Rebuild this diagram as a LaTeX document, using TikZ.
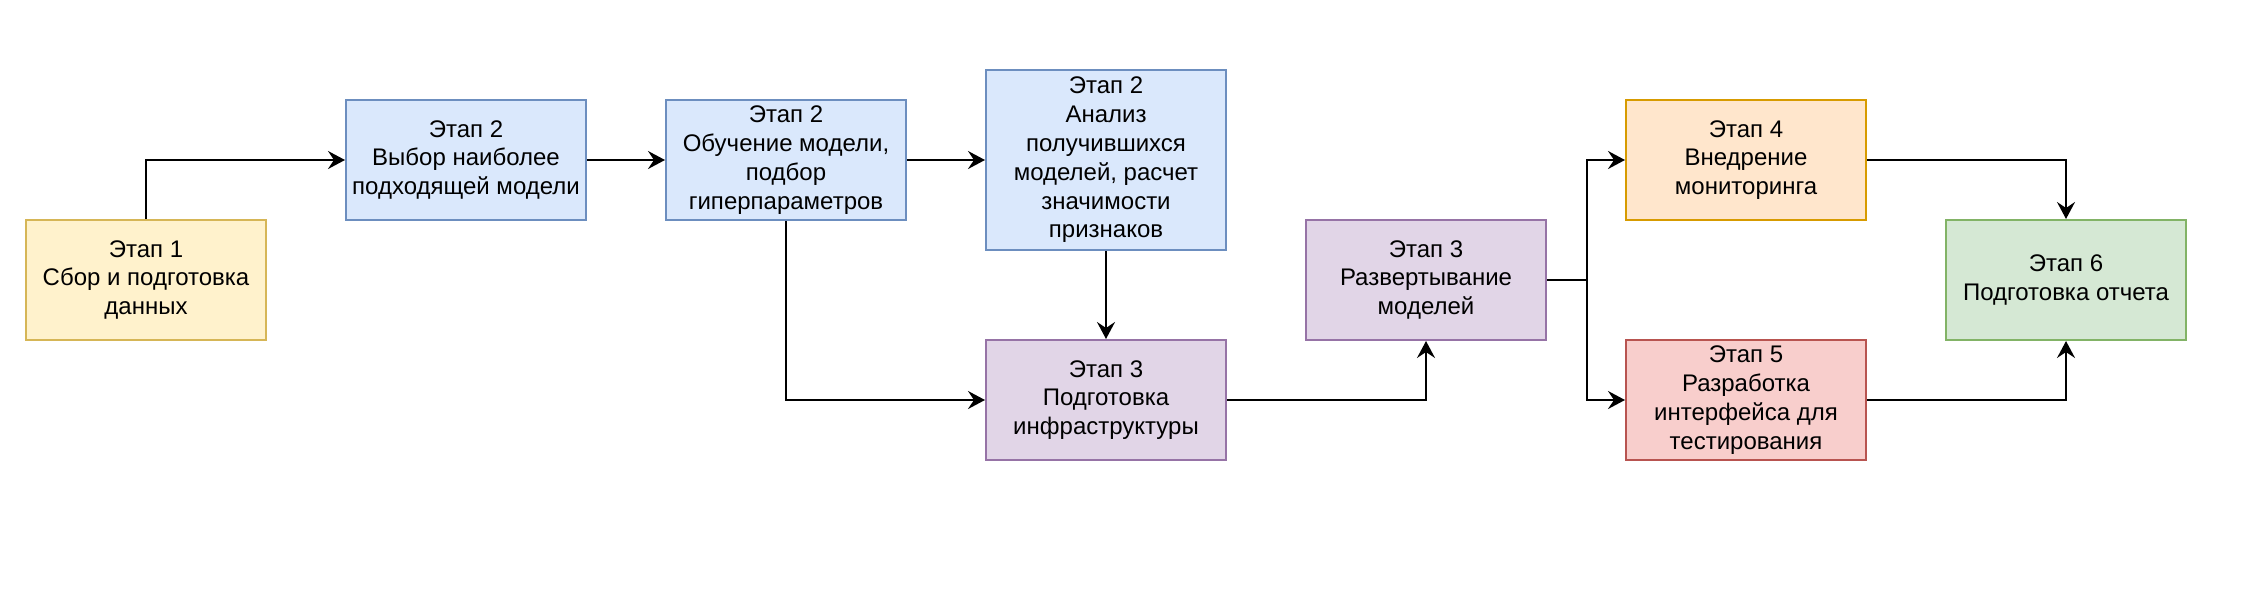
\documentclass[tikz,border=0pt]{standalone}
\usepackage{fontspec}
\setmainfont{Liberation Sans}
\usetikzlibrary{arrows.meta,positioning}
\definecolor{yelfill}{HTML}{FFF2CC}\definecolor{yeldraw}{HTML}{D6B656}
\definecolor{blufill}{HTML}{DAE8FC}\definecolor{bludraw}{HTML}{6C8EBF}
\definecolor{purfill}{HTML}{E1D5E7}\definecolor{purdraw}{HTML}{9673A6}
\definecolor{orafill}{HTML}{FFE6CC}\definecolor{oradraw}{HTML}{D79B00}
\definecolor{redfill}{HTML}{F8CECC}\definecolor{reddraw}{HTML}{B85450}
\definecolor{grnfill}{HTML}{D5E8D4}\definecolor{grndraw}{HTML}{82B366}

\begin{document}
\begin{tikzpicture}[x=1pt,y=-1pt,font=\fontsize{12}{14.4}\selectfont,>={Stealth[length=8.5pt,width=9pt,inset=3pt]},stage/.style={draw,line width=1pt,minimum width=120pt,minimum height=60pt,align=center,inner sep=2pt},yellowbox/.style={stage,fill=yelfill,draw=yeldraw},bluebox/.style={stage,fill=blufill,draw=bludraw},purplebox/.style={stage,fill=purfill,draw=purdraw},orangebox/.style={stage,fill=orafill,draw=oradraw},redbox/.style={stage,fill=redfill,draw=reddraw},greenbox/.style={stage,fill=grnfill,draw=grndraw},link/.style={->,line width=1pt}]
\useasboundingbox (0,0) rectangle (1121,298);
\node[yellowbox] (collect) at (73,140) {Этап 1\\Сбор и подготовка\\данных};
\node[bluebox] (choose) at (233,80) {Этап 2\\Выбор наиболее\\подходящей модели};
\node[bluebox] (train) at (393,80) {Этап 2\\Обучение модели,\\подбор\\гиперпараметров};
\node[bluebox,minimum height=90pt] (analyse) at (553,80) {Этап 2\\Анализ\\получившихся\\моделей, расчет\\значимости\\признаков};
\node[purplebox] (infra) at (553,200) {Этап 3\\Подготовка\\инфраструктуры};
\node[purplebox] (deploy) at (713,140) {Этап 3\\Развертывание\\моделей};
\node[orangebox] (monitor) at (873,80) {Этап 4\\Внедрение\\мониторинга};
\node[redbox] (ui) at (873,200) {Этап 5\\Разработка\\интерфейса для\\тестирования};
\node[greenbox] (report) at (1033,140) {Этап 6\\Подготовка отчета};
\coordinate[right=20pt of deploy.east] (fork);
\draw[link] (collect.north) |- (choose.west);
\draw[link] (choose) -- (train);
\draw[link] (train.east) -- (analyse.west);
\draw[link] (train.south) |- (infra.west);
\draw[link] (analyse) -- (infra);
\draw[link] (infra.east) -| (deploy.south);
\draw[line width=1pt] (deploy.east) -- (fork);
\draw[link] (fork) |- (monitor.west);
\draw[link] (fork) |- (ui.west);
\draw[link] (monitor.east) -| (report.north);
\draw[link] (ui.east) -| (report.south);
\end{tikzpicture}
\end{document}
